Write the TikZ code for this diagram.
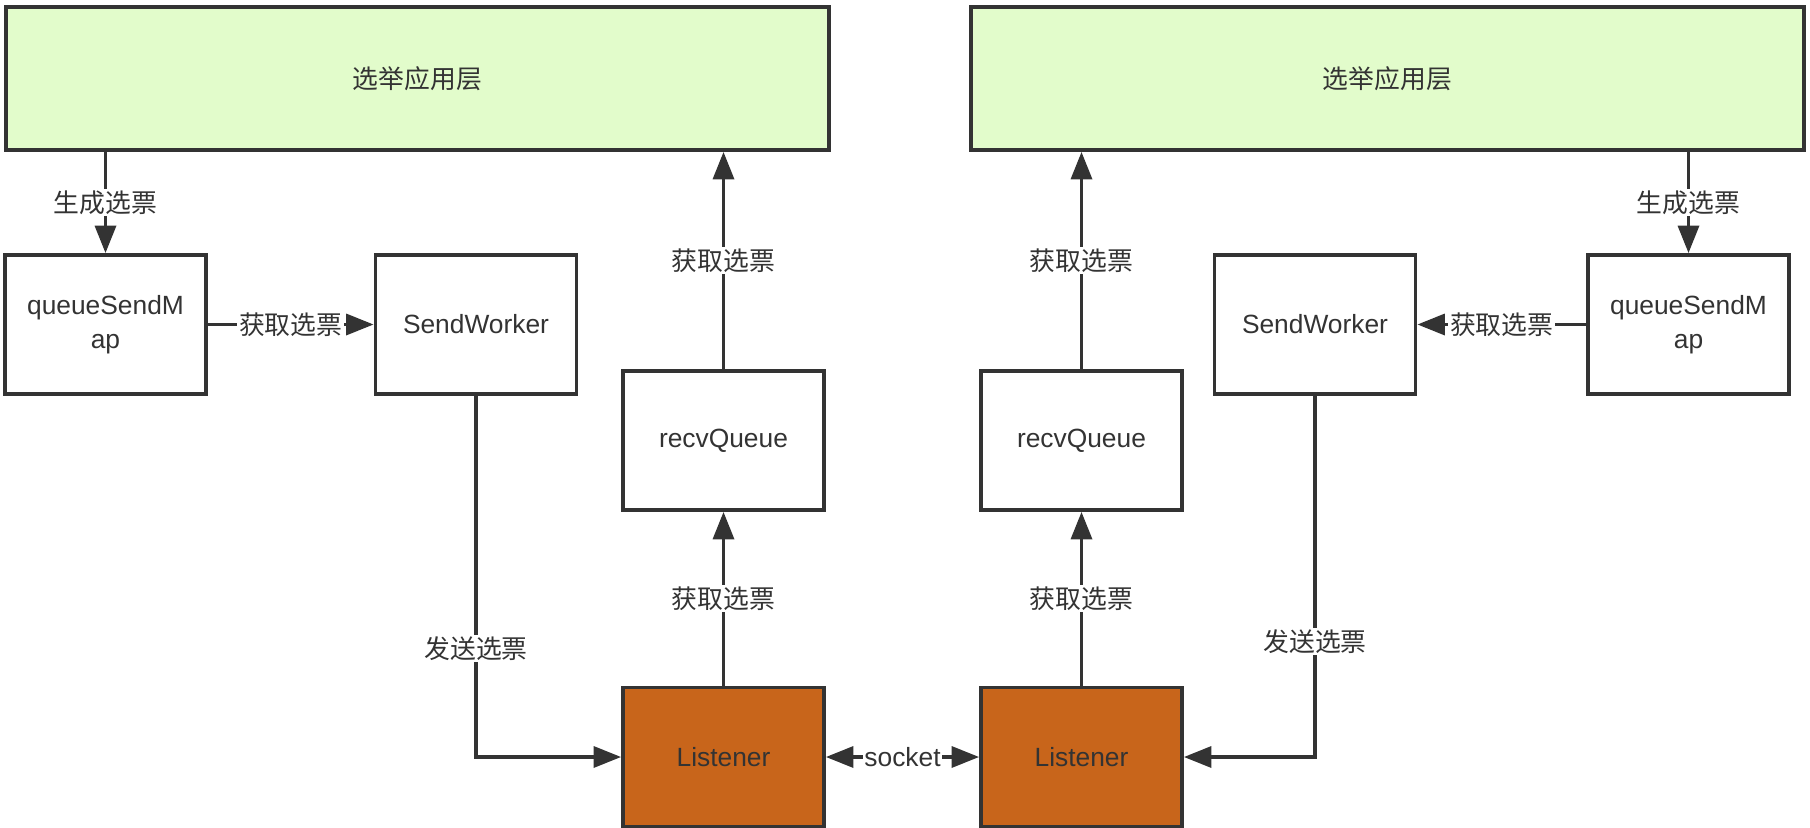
\documentclass[tikz,border=0pt]{standalone}
\usepackage{fontspec}
\setmainfont{Liberation Sans}
\newfontfamily\cjk{Noto Sans CJK SC}
\usetikzlibrary{arrows.meta}
\definecolor{linegray}{HTML}{333333}
\definecolor{layergreen}{HTML}{E2FCCB}
\definecolor{listenorange}{HTML}{C8651B}

\begin{document}
\begin{tikzpicture}[x=0.02cm,y=-0.02cm,
      >={Triangle[length=0.55cm,width=0.42cm]},
      box/.style={draw=linegray,line width=2.2pt,text=linegray,minimum width=4.02cm,minimum height=2.78cm,inner sep=0pt,align=center,font=\fontsize{15}{19.5}\selectfont},
      layer/.style={box,fill=layergreen,minimum height=2.86cm,font=\cjk\fontsize{14.7}{19}\selectfont},
      listener/.style={box,fill=listenorange},
      lbl/.style={fill=white,text=linegray,inner sep=1pt,font=\cjk\fontsize{14.7}{18}\selectfont},
      link/.style={draw=linegray,line width=2pt,->}]
      \useasboundingbox (0,0) rectangle (1810,828);
      \node[layer,minimum width=16.46cm] (layerL) at (417.5,78.5) {\raisebox{-3pt}{选举应用层}};
      \node[layer,minimum width=16.66cm] (layerR) at (1387.5,78.5) {\raisebox{-3pt}{选举应用层}};
      \node[box] (qsmL) at (105.5,324.5) {queueSendM\\ap};
      \node[box] (swL) at (476,324.5) {SendWorker};
      \node[box] (rqL) at (723.5,440.5) {recvQueue};
      \node[listener] (lisL) at (723.5,757) {Listener};
      \node[listener] (lisR) at (1081.5,757) {Listener};
      \node[box] (rqR) at (1081.5,440.5) {recvQueue};
      \node[box] (swR) at (1315,324.5) {SendWorker};
      \node[box] (qsmR) at (1688.5,324.5) {queueSendM\\ap};

      \draw[link] (layerL.south -| qsmL) -- node[lbl] {生成选票} (qsmL.north);
      \draw[link] (qsmL) -- node[lbl] {获取选票} (swL);
      \draw[link] (swL.south) -- node[lbl,pos=0.7] {发送选票} (swL.south |- lisL) -- (lisL.west);
      \draw[link] (lisL) -- node[lbl] {获取选票} (rqL);
      \draw[link] (rqL.north) -- node[lbl] {获取选票} (rqL.north |- layerL.south);
      \draw[link,<->] (lisL) -- node[lbl,font=\fontsize{15}{18}\selectfont] {socket} (lisR);
      \draw[link] (rqR.north) -- node[lbl] {获取选票} (rqR.north |- layerR.south);
      \draw[link] (lisR) -- node[lbl] {获取选票} (rqR);
      \draw[link] (swR.south) -- node[lbl,pos=0.68] {发送选票} (swR.south |- lisR) -- (lisR.east);
      \draw[link] (qsmR) -- node[lbl] {获取选票} (swR);
      \draw[link] (layerR.south -| qsmR) -- node[lbl] {生成选票} (qsmR.north);
\end{tikzpicture}
\end{document}
